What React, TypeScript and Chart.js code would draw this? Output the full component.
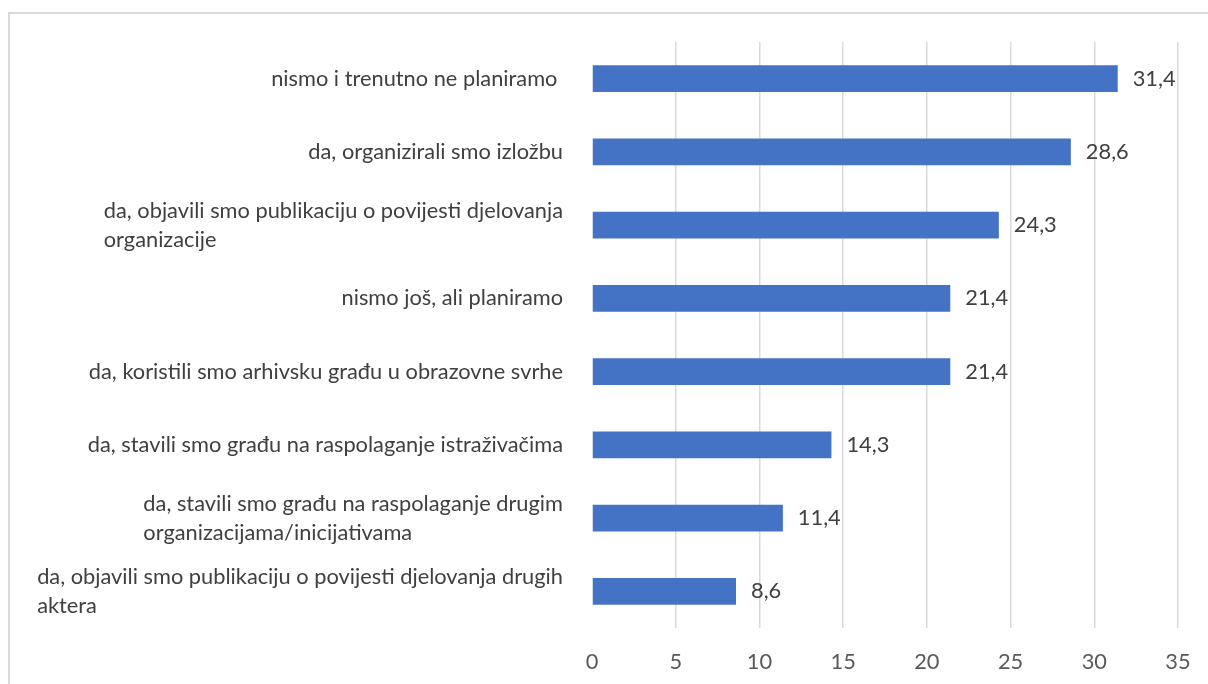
import React, { useEffect, useRef } from "react";
import { Chart, registerables } from "chart.js";

Chart.register(...registerables);

const categories: string[][] = [
  ["nismo i trenutno ne planiramo "],
  ["da, organizirali smo izložbu"],
  ["da, objavili smo publikaciju o povijesti djelovanja", "organizacije"],
  ["nismo još, ali planiramo"],
  ["da, koristili smo arhivsku građu u obrazovne svrhe"],
  ["da, stavili smo građu na raspolaganje istraživačima"],
  ["da, stavili smo građu na raspolaganje drugim", "organizacijama/inicijativama"],
  ["da, objavili smo publikaciju o povijesti djelovanja drugih", "aktera"],
];

const values: number[] = [31.4, 28.6, 24.3, 21.4, 21.4, 14.3, 11.4, 8.6];

const xTicks: number[] = [0, 5, 10, 15, 20, 25, 30, 35];

const FONT_FAMILY = "Lato, 'Open Sans', sans-serif";
const FONT_SIZE = 21.8;
const TEXT_COLOR = "#404040";
const BAR_COLOR = "#4472C4";
const GRID_COLOR = "#d9d9d9";

const fmt = (v: number) => v.toFixed(1).replace(".", ",");

const labelPlugin = {
  id: "customLabels",
  afterDatasetsDraw(chart: any) {
    const ctx = chart.ctx as CanvasRenderingContext2D;
    const yScale = chart.scales.y;
    const meta = chart.getDatasetMeta(0);
    ctx.save();
    ctx.font = `${FONT_SIZE}px ${FONT_FAMILY}`;
    ctx.fillStyle = TEXT_COLOR;
    ctx.textBaseline = "middle";
    const right = chart.chartArea.left - 29;
    const lineH = 29;
    categories.forEach((lines, i) => {
      const cy = yScale.getPixelForValue(i);
      if (lines.length === 1) {
        ctx.textAlign = "right";
        ctx.fillText(lines[0], right, cy);
      } else {
        const w = Math.max(...lines.map((l) => ctx.measureText(l).width));
        ctx.textAlign = "left";
        const startY = cy - ((lines.length - 1) * lineH) / 2;
        lines.forEach((l, j) => ctx.fillText(l, right - w, startY + j * lineH));
      }
    });
    ctx.textAlign = "left";
    meta.data.forEach((bar: any, i: number) => {
      ctx.fillText(fmt(values[i]), bar.x + 15, bar.y);
    });
    ctx.restore();
  },
};

export default function App() {
  const ref = useRef<HTMLCanvasElement | null>(null);
  useEffect(() => {
    if (!ref.current) return;
    const chart = new Chart(ref.current, {
      type: "bar",
      data: {
        labels: categories.map((c) => c.join(" ")),
        datasets: [
          {
            data: values,
            backgroundColor: BAR_COLOR,
            barPercentage: 0.364,
            categoryPercentage: 1,
          },
        ],
      },
      options: {
        indexAxis: "y",
        animation: false,
        responsive: false,
        layout: { padding: { left: 592, right: 30, top: 42, bottom: 8 } },
        plugins: { legend: { display: false }, tooltip: { enabled: false } },
        scales: {
          x: {
            min: 0,
            max: 35,
            afterBuildTicks: (axis: any) => {
              axis.ticks = xTicks.map((v) => ({ value: v }));
            },
            afterFit: (axis: any) => {
              axis.height = 48;
              axis.paddingRight = 0;
              axis.paddingLeft = 0;
            },
            border: { display: false },
            grid: {
              color: (c: any) => (c.tick && c.tick.value === 0 ? "rgba(0,0,0,0)" : GRID_COLOR),
              lineWidth: 1.5,
              drawTicks: false,
            },
            ticks: {
              padding: 21,
              color: "#595959",
              font: { family: FONT_FAMILY, size: FONT_SIZE },
            },
          },
          y: {
            display: false,
          },
        },
      },
      plugins: [labelPlugin],
    });
    return () => chart.destroy();
  }, []);
  return (
    <div style={{ position: "fixed", left: 0, top: 0, width: 1208, height: 684, overflow: "hidden", background: "#fff" }}>
      <div
        style={{
          position: "absolute",
          left: 8,
          top: 12,
          width: 1300,
          height: 800,
          border: "2px solid #d9d9d9",
          boxSizing: "border-box",
        }}
      />
      <canvas ref={ref} width={1208} height={684} style={{ position: "absolute", left: 0, top: 0, width: 1208, height: 684 }} />
    </div>
  );
}
